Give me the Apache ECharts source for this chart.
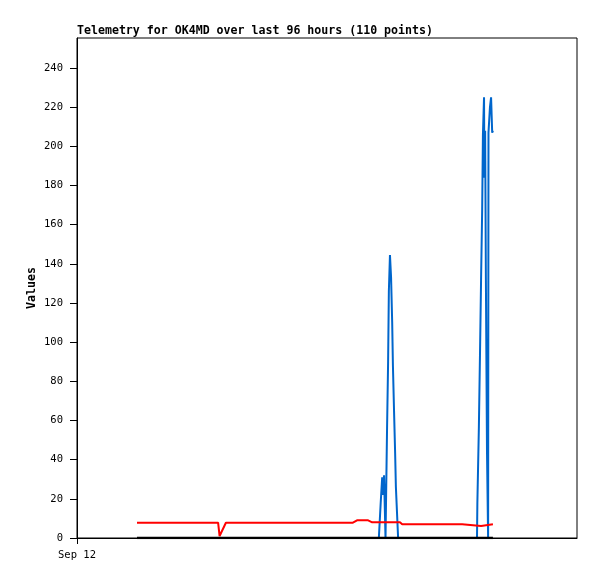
<!DOCTYPE html>
<html><head><meta charset="utf-8">
<script src="https://cdn.jsdelivr.net/npm/echarts@6/dist/echarts.min.js"></script>
<style>html,body{margin:0;padding:0;background:#fff}#c{width:597px;height:579px}</style>
</head><body><div id="c"></div>
<script>
// x values: hours since Sep 12 00:00
const blueTimes  = [16.2, 81.5, 82.0, 82.4, 82.6, 82.9, 83.3, 83.7, 84.0, 84.2, 84.5, 84.8, 85.1, 85.3, 85.6, 85.9, 86.1, 86.4, 86.7, 108.0, 108.1, 108.5, 108.8, 109.1, 109.4, 109.6, 109.9, 110.0, 110.2, 110.4, 110.7, 111.0, 111.1, 111.5, 111.8, 112.1, 112.3];
const blueValues = [0, 0, 18, 31, 22, 32, 0, 54, 90, 126, 144.5, 133, 110, 88, 65, 43, 26, 13, 0, 0, 18, 56, 93, 132, 168, 206, 225, 184, 208, 132, 44, 0, 207, 220, 225, 207, 208];
const redTimes   = [16.2, 38.1, 38.5, 40.2, 74.5, 75.6, 78.6, 79.7, 87.2, 87.8, 104.0, 104.5, 109.1, 109.6, 112.3];
const redValues  = [7.8, 7.8, 1, 7.8, 7.8, 9, 9, 8, 8, 7, 7, 6.1, 6.1, 7, 7];
const blackTimes  = [16.2, 112.3];
const blackValues = [0, 0];
const yTicks = [0, 20, 40, 60, 80, 100, 120, 140, 160, 180, 200, 220, 240];
const xTickHours = [0];
const xTickLabels = ['Sep 12'];
const titleText = 'Telemetry for OK4MD over last 96 hours (110 points)';

const zip = (a, b) => a.map((v, i) => [v, b[i]]);
const mono = 'DejaVu Sans Mono';
const chart = echarts.init(document.getElementById('c'));
chart.setOption({
  animation: false,
  backgroundColor: '#fff',
  title: { text: titleText, left: 77, top: 25, padding: 0, textStyle: { fontFamily: mono, fontSize: 11.6, fontWeight: 'bold', color: '#000' } },
  grid: { left: 77, right: 20, top: 38, bottom: 41, show: true, borderColor: '#000', borderWidth: 1, backgroundColor: 'transparent' },
  xAxis: {
    type: 'value', min: 0, max: 135,
    splitLine: { show: false },
    axisLine: { show: true, lineStyle: { color: '#000', width: 1 } },
    axisTick: { show: true, length: 6, customValues: xTickHours, lineStyle: { color: '#000' } },
    axisLabel: { customValues: xTickHours, formatter: v => xTickLabels[xTickHours.indexOf(v)] || '', fontFamily: mono, fontSize: 10.5, color: '#000', margin: 12 }
  },
  yAxis: {
    type: 'value', min: 0, max: 255.3,
    name: 'Values', nameLocation: 'middle', nameGap: 39, nameRotate: 90, nameMoveOverlap: false,
    nameTextStyle: { fontFamily: mono, fontSize: 11.6, fontWeight: 'bold', color: '#000' },
    splitLine: { show: false },
    axisLine: { show: true, lineStyle: { color: '#000', width: 1 } },
    axisTick: { show: true, length: 7, customValues: yTicks, lineStyle: { color: '#000' } },
    axisLabel: { customValues: yTicks, fontFamily: mono, fontSize: 10.5, color: '#000', margin: 14 }
  },
  series: [
    { type: 'line', data: zip(blueTimes, blueValues), showSymbol: false, lineStyle: { color: '#0066cc', width: 2 }, z: 2 },
    { type: 'line', data: zip(redTimes, redValues), showSymbol: false, lineStyle: { color: '#ff0000', width: 2 }, z: 3 },
    { type: 'line', data: zip(blackTimes, blackValues), showSymbol: false, lineStyle: { color: '#000', width: 2.5 }, z: 4 }
  ]
});
</script></body></html>
